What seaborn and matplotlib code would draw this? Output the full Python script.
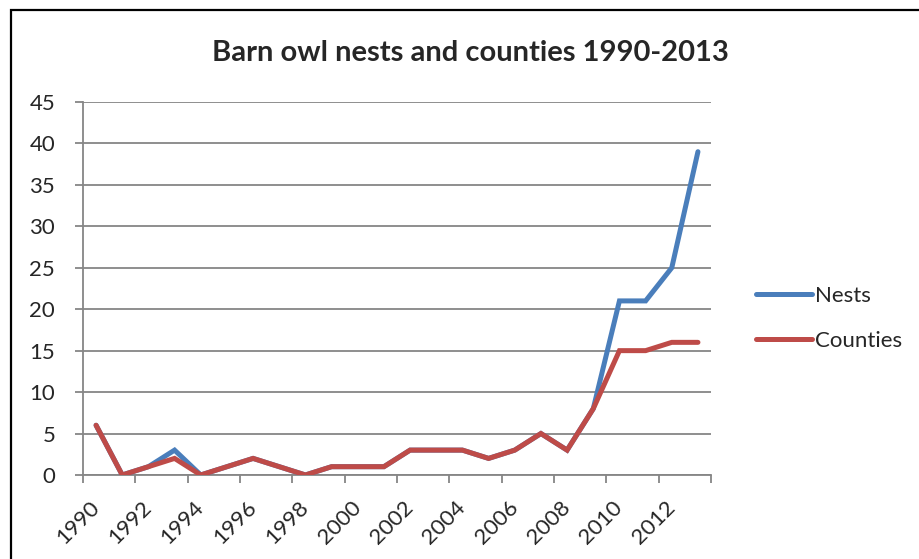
import numpy as np
import pandas as pd
import matplotlib
matplotlib.use("Agg")
import matplotlib.pyplot as plt
import seaborn as sns
from matplotlib.patches import Rectangle

# -----------------------------
# DATA
# -----------------------------
years = list(range(1990, 2014))
nests = [6, 0, 1, 3, 0, 1, 2, 1, 0, 1, 1, 1, 3, 3, 3, 2, 3, 5, 3, 8, 21, 21, 25, 39]
counties = [6, 0, 1, 2, 0, 1, 2, 1, 0, 1, 1, 1, 3, 3, 3, 2, 3, 5, 3, 8, 15, 15, 16, 16]
series_names = ["Nests", "Counties"]
series_colors = ["#4A7EBB", "#BE4B48"]
y_ticks = [0, 5, 10, 15, 20, 25, 30, 35, 40, 45]

sns.set_style("white")
plt.rcParams["font.family"] = ["Lato", "DejaVu Sans"]

df = pd.DataFrame({
    "pos": list(range(len(years))) * 2,
    "value": nests + counties,
    "series": [series_names[0]] * len(years) + [series_names[1]] * len(years),
})

fig = plt.figure(figsize=(9.19, 5.59), dpi=100)
ax = fig.add_axes([0.0903, 0.1503, 0.6834, 0.6673])

sns.lineplot(
    data=df,
    x="pos",
    y="value",
    hue="series",
    palette=series_colors,
    linewidth=3.6,
    ax=ax,
    legend=True,
    zorder=3,
)
for line in ax.lines:
    line.set_solid_capstyle("round")
    line.set_solid_joinstyle("miter")

# axes / grid
ax.set_xlim(-0.5, len(years) - 0.5)
ax.set_ylim(0, 45)
ax.set_yticks(y_ticks)
ax.yaxis.grid(True, color="#868686", linewidth=1.3, zorder=0)
ax.set_axisbelow(True)

ax.set_xticks(list(range(0, len(years), 2)))
ax.set_xticklabels([str(y) for y in years[::2]], rotation=45, ha="right",
                   va="center", rotation_mode="anchor")
ax.set_xticks(np.arange(-0.5, len(years), 2), minor=True)
ax.tick_params(axis="x", which="major", length=0, pad=21, labelsize=16)
ax.tick_params(axis="x", which="minor", length=6, width=1.3, color="#868686",
               bottom=True)
ax.tick_params(axis="y", length=6, width=1.3, color="#868686", left=True,
               pad=14, labelsize=16)

for side in ["top", "right"]:
    ax.spines[side].set_visible(False)
for side in ["left", "bottom"]:
    ax.spines[side].set_color("#868686")
    ax.spines[side].set_linewidth(1.3)

ax.set_xlabel("")
ax.set_ylabel("")

handles, labels = ax.get_legend_handles_labels()
leg = ax.legend(handles, labels, loc="center left", bbox_to_anchor=(1.04, 0.42),
                frameon=False, fontsize=16, handlelength=2.5, handletextpad=0.15,
                labelspacing=1.1)
for h in leg.legend_handles:
    h.set_linewidth(3.6)
    h.set_solid_capstyle("round")

fig.text(0.512, 0.905, "Barn owl nests and counties 1990-2013", ha="center",
         va="center", fontsize=21, fontweight="bold")

# chart border
fig.patches.append(Rectangle((11 / 919, -0.1), 1.2, 1 - 10 / 559 + 0.1,
                             transform=fig.transFigure, fill=False,
                             edgecolor="black", linewidth=1.6))

fig.savefig("out.png", dpi=100)
